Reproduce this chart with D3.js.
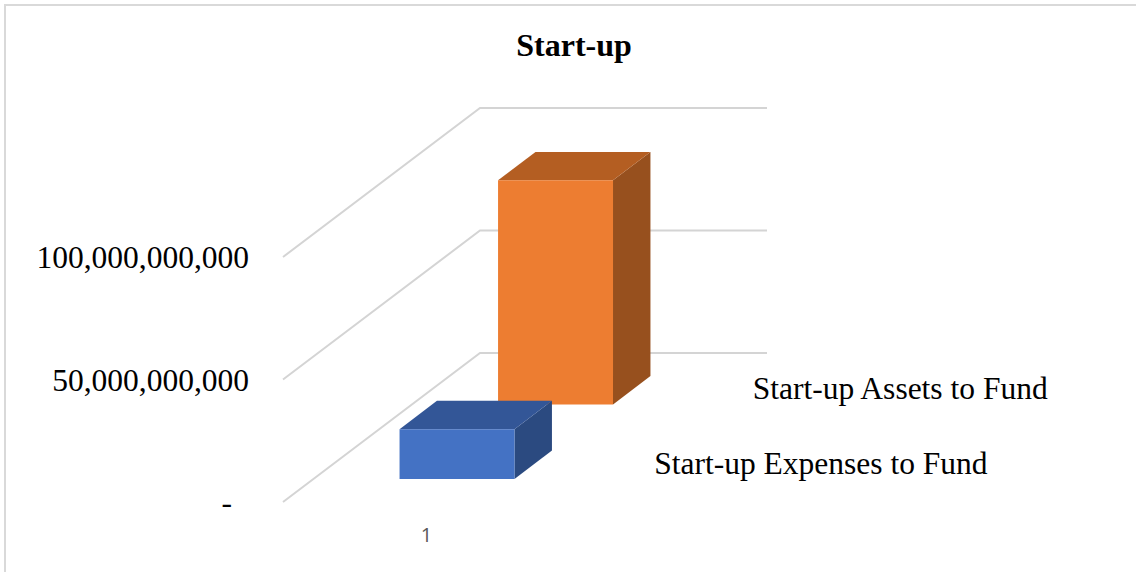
<!DOCTYPE html>
<html>
<head>
<meta charset="utf-8">
<script src="https://cdn.jsdelivr.net/npm/d3@7"></script>
<style>
  html, body { margin: 0; padding: 0; background: #fff; }
  svg { display: block; }
  text { font-family: "Liberation Serif", "Times New Roman", serif; }
</style>
</head>
<body>
<svg id="chart" width="1136" height="572"></svg>
<script>
// ---- data ----
const title = "Start-up";
const categories = ["1"];
const seriesNames = ["Start-up Expenses to Fund", "Start-up Assets to Fund"]; // front to back
const seriesValues = [20.3e9, 91.5e9];
const seriesColors = [
  { front: "#4472C4", top: "#335697", side: "#2B4A80" },
  { front: "#ED7D31", top: "#B45E22", side: "#97501E" }
];
const yTicks = [0, 50e9, 100e9];
const yTickLabels = ["-", "50,000,000,000", "100,000,000,000"];

// ---- layout ----
const svg = d3.select("#chart");
const W = 1136, H = 572;
const origin = { x: 283, y: 502 };   // front-left-bottom corner of the plot
const plotW = 287;                    // width of the floor
const depth = { x: 197, y: 149 };     // oblique offset of full depth

const x = d3.scaleBand().domain(categories).range([0, plotW]).paddingInner(0.428).paddingOuter(0.428);
const h = d3.scaleLinear().domain([0, 100e9]).range([0, 245]);
const z = d3.scalePoint().domain(seriesNames).range([0, 1]).padding(0.5);
const barDepth = 0.19;

// projection: px along width, value height, depth fraction
const P = (px, hv, d) => [origin.x + px + depth.x * d, origin.y - hv - depth.y * d];
const poly = pts => "M" + pts.map(p => p.join(",")).join("L") + "Z";

// chart border
svg.append("rect").attr("x", 5).attr("y", 5).attr("width", W + 20).attr("height", H + 20)
  .attr("fill", "none").attr("stroke", "#D9D9D9").attr("stroke-width", 2);

// title
svg.append("text").attr("x", 574).attr("y", 56).attr("text-anchor", "middle")
  .attr("font-size", 32).attr("font-weight", "bold").attr("fill", "#000").text(title);

// gridlines: side wall + back wall
const grid = svg.append("g").attr("stroke", "#D4D4D4").attr("stroke-width", 2).attr("fill", "none");
yTicks.forEach(t => {
  const a = P(0, h(t), 0), b = P(0, h(t), 1), c = P(plotW, h(t), 1);
  grid.append("path").attr("d", "M" + a + "L" + b + "L" + c);
});

// y tick labels
const fmt = (t, i) => yTickLabels[i];
svg.append("g").selectAll("text").data(yTicks).join("text")
  .attr("x", origin.x - 34)
  .attr("y", t => origin.y - h(t))
  .attr("dy", "0.35em")
  .attr("dx", t => t === 0 ? -17 : 0)
  .attr("text-anchor", "end").attr("font-size", 31.5).attr("fill", "#000")
  .text(fmt);

// bars: draw back to front
const order = d3.range(seriesNames.length).reverse();
const bars = svg.append("g");
categories.forEach(cat => {
  order.forEach(i => {
    const x0 = x(cat), x1 = x(cat) + x.bandwidth();
    const dc = z(seriesNames[i]);
    const d0 = dc - barDepth / 2, d1 = dc + barDepth / 2;
    const hv = h(seriesValues[i]);
    const col = seriesColors[i];
    // right side
    bars.append("path").attr("fill", col.side)
      .attr("d", poly([P(x1, 0, d0), P(x1, 0, d1), P(x1, hv, d1), P(x1, hv, d0)]));
    // top
    bars.append("path").attr("fill", col.top)
      .attr("d", poly([P(x0, hv, d0), P(x1, hv, d0), P(x1, hv, d1), P(x0, hv, d1)]));
    // front
    bars.append("path").attr("fill", col.front)
      .attr("d", poly([P(x0, 0, d0), P(x1, 0, d0), P(x1, hv, d0), P(x0, hv, d0)]));
  });
});

// series (depth axis) labels
svg.append("g").selectAll("text").data(seriesNames).join("text")
  .attr("x", s => P(plotW, 0, z(s))[0] + 35)
  .attr("y", s => P(plotW, 0, z(s))[1] - 2)
  .attr("dy", "0.35em")
  .attr("font-size", 31.5).attr("fill", "#000")
  .text(s => s);

// category labels
svg.append("g").selectAll("text").data(categories).join("text")
  .attr("x", c => origin.x + x(c) + x.bandwidth() / 2)
  .attr("y", 535).attr("dy", "0.35em")
  .attr("text-anchor", "middle")
  .style("font-family", "'Open Sans', 'Noto Sans', sans-serif")
  .attr("font-size", 20).attr("fill", "#595959")
  .text(c => c);
</script>
</body>
</html>
